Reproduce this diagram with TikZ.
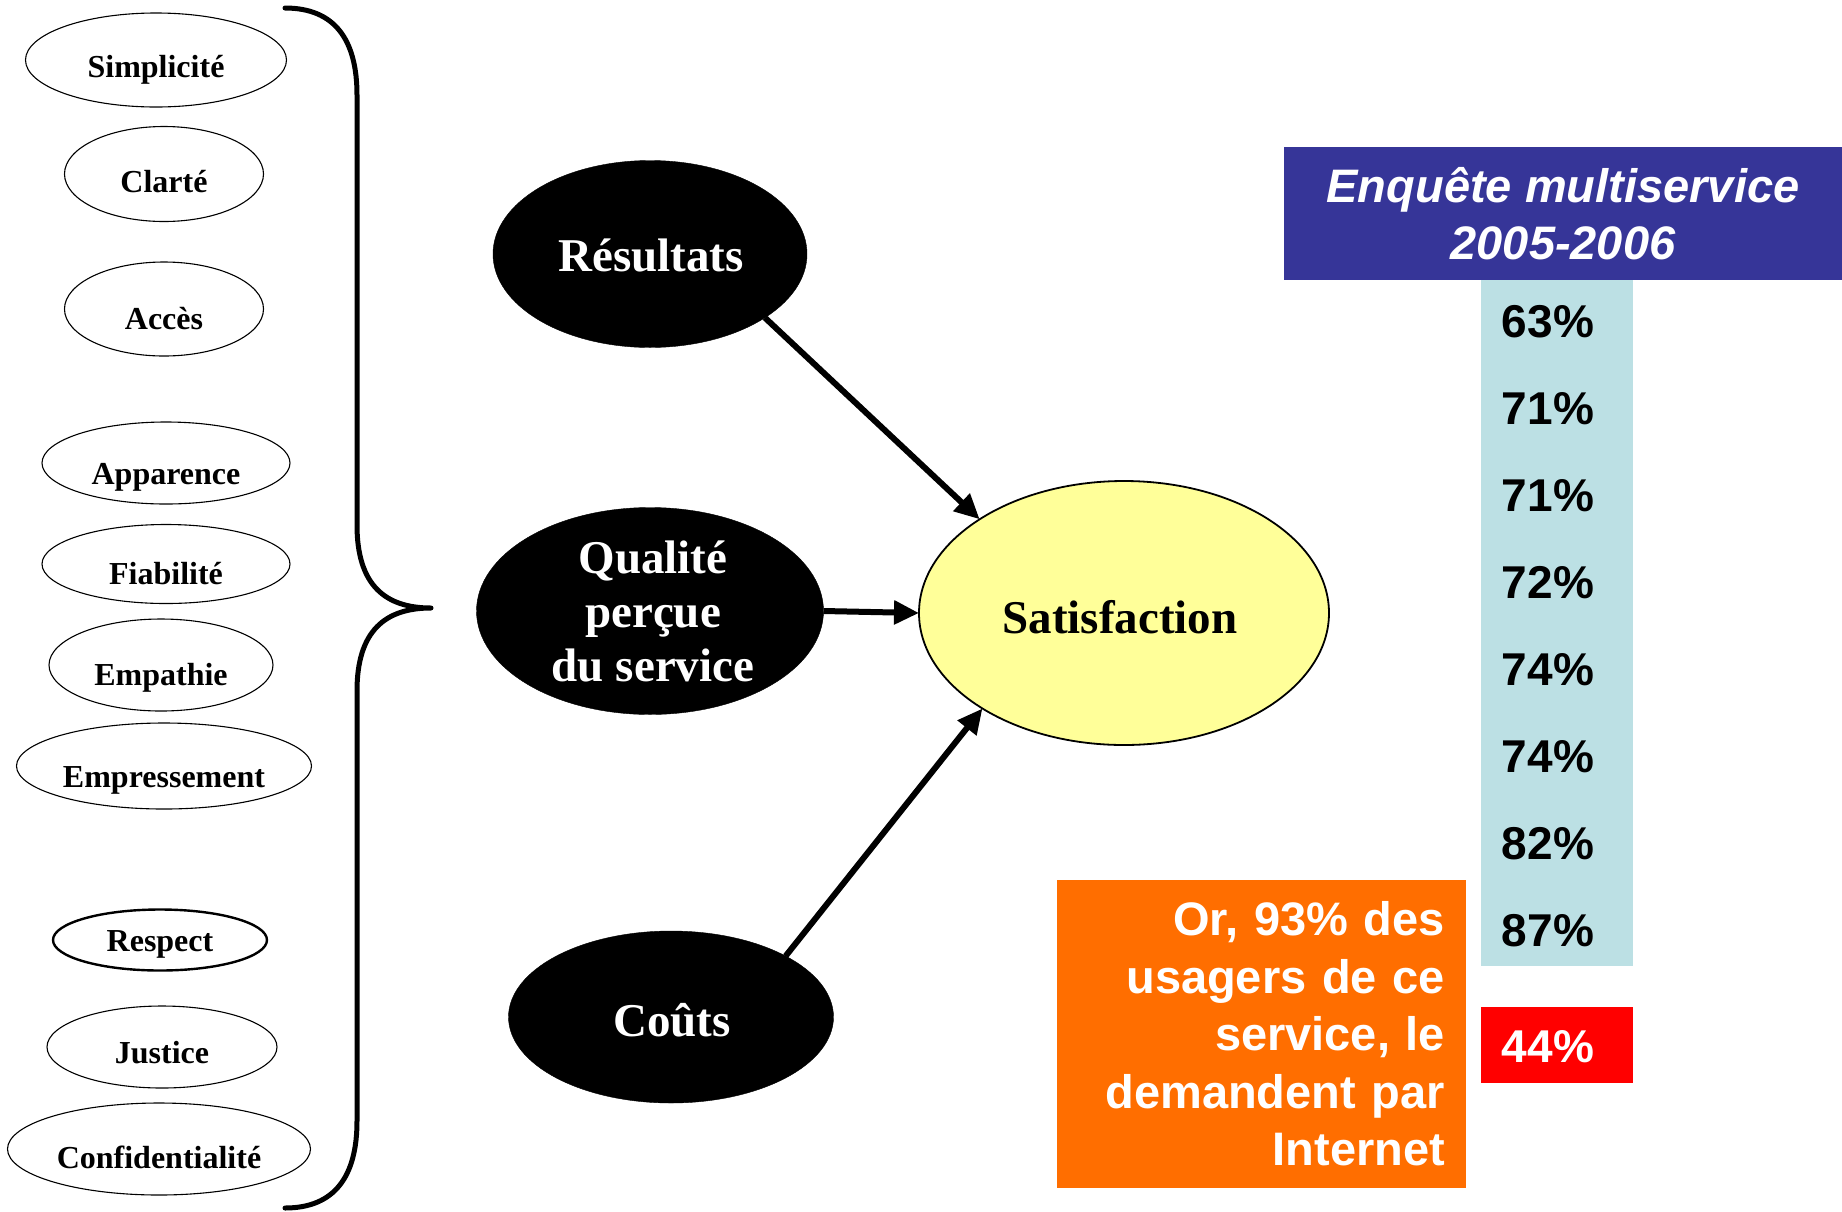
\documentclass[tikz,border=0pt]{standalone}
\usepackage{fontspec}
\setmainfont{Liberation Serif}
\newfontfamily\arialf{Liberation Sans}
\usetikzlibrary{shapes.geometric,arrows.meta}

\definecolor{headblue}{RGB}{54,53,152}
\definecolor{paleblue}{RGB}{188,224,228}
\definecolor{alertred}{RGB}{255,0,0}
\definecolor{notebox}{RGB}{255,110,0}
\definecolor{satyellow}{RGB}{255,255,153}

\begin{document}
\begin{tikzpicture}[x=1pt,y=-1pt,
  factor/.style={ellipse, draw=black, line width=1.1pt, fill=white, inner sep=0pt, outer sep=0pt},
  factortxt/.style={font=\fontsize{32}{38}\selectfont\bfseries, anchor=base, inner sep=0pt},
  driver/.style={ellipse, fill=black, draw=black, inner sep=0pt, outer sep=0pt},
  drivertxt/.style={font=\fontsize{47}{54}\selectfont\bfseries, text=white, inner sep=0pt, align=center},
  link/.style={line width=6pt, -{Triangle[length=25pt,width=23pt]}},
  pct/.style={font=\arialf\fontsize{46}{52}\selectfont\bfseries, anchor=base, inner sep=0pt},
  panel/.style={inner sep=0pt, outer sep=0pt, anchor=north west},
]
\useasboundingbox (0,0) rectangle (1842,1211);

% service-quality factors
\node[factor, minimum width=261pt, minimum height=94pt] (f1) at (156,60) {};
\node[factortxt] (t1) at (156,77.5) {Simplicité};
\node[factor, minimum width=199pt, minimum height=95pt] (f2) at (164,174) {};
\node[factortxt] (t2) at (164,192.6) {Clarté};
\node[factor, minimum width=199pt, minimum height=94pt] (f3) at (164,309) {};
\node[factortxt] (t3) at (164,329) {Accès};
\node[factor, minimum width=248pt, minimum height=82pt] (f4) at (166,463) {};
\node[factortxt] (t4) at (166,484) {Apparence};
\node[factor, minimum width=248pt, minimum height=79pt] (f5) at (166,564) {};
\node[factortxt] (t5) at (166,584) {Fiabilité};
\node[factor, minimum width=224pt, minimum height=92pt] (f6) at (161,665) {};
\node[factortxt] (t6) at (161,685) {Empathie};
\node[factor, minimum width=295pt, minimum height=86pt] (f7) at (164,766) {};
\node[factortxt] (t7) at (164,787) {Empressement};
\node[factor, line width=2.4pt, minimum width=214pt, minimum height=61pt] (f8) at (160,940) {};
\node[factortxt] (t8) at (160,951) {Respect};
\node[factor, minimum width=230pt, minimum height=82pt] (f9) at (162,1047) {};
\node[factortxt] (t9) at (162,1063) {Justice};
\node[factor, minimum width=303pt, minimum height=92pt] (f10) at (159,1149) {};
\node[factortxt] (t10) at (159,1168) {Confidentialité};

% curly brace gathering the factors
\coordinate (btop) at (285,8);
\coordinate (btip) at (431,608);
\coordinate (bbot) at (285,1208);
\draw[line width=5pt, line cap=round, line join=round]
  (btop) .. controls (335,8) and (357,40) .. (357,95)
  -- (357,525) .. controls (357,585) and (385,608) .. (btip)
  .. controls (385,608) and (357,631) .. (357,691)
  -- (357,1121) .. controls (357,1176) and (335,1208) .. (bbot);

% drivers of satisfaction
\node[driver, minimum width=314pt, minimum height=187pt] (r) at (650,254) {};
\node[drivertxt, anchor=base] (rt) at (651,271) {Résultats};
\node[driver, minimum width=347pt, minimum height=207pt] (q) at (650,611) {};
\node[drivertxt] (qt) at (653,611) {Qualité\\perçue\\du service};
\node[driver, minimum width=325pt, minimum height=172pt] (c) at (671,1017) {};
\node[drivertxt, anchor=base] (ct) at (672,1036) {Coûts};
\node[ellipse, fill=satyellow, draw=black, line width=1.8pt, inner sep=0pt, outer sep=0pt,
      minimum width=410pt, minimum height=264pt] (s) at (1124,613) {};
\node[drivertxt, text=black, anchor=base] (st) at (1120,633) {Satisfaction};

\draw[link] (r.-29) -- (s.147);
\draw[link] (q.east) -- (s.west);
\draw[link] (c.28) -- (s.214);

% survey results
\node[panel, fill=headblue, minimum width=558pt, minimum height=133pt, text=white,
      font=\arialf\fontsize{47}{57}\selectfont\bfseries\itshape, align=center]
  (head) at (1284,147) {Enquête multiservice\\2005-2006};
\node[panel, fill=paleblue, minimum width=152pt, minimum height=686pt] (col) at (1481,280) {};
\node[pct] (p1) at (1548,337) {63\%};
\node[pct] (p2) at (1548,424) {71\%};
\node[pct] (p3) at (1548,511) {71\%};
\node[pct] (p4) at (1548,598) {72\%};
\node[pct] (p5) at (1548,685) {74\%};
\node[pct] (p6) at (1548,772) {74\%};
\node[pct] (p7) at (1548,859) {82\%};
\node[pct] (p8) at (1548,946) {87\%};
\node[panel, fill=alertred, minimum width=152pt, minimum height=76pt] (red) at (1481,1007) {};
\node[pct, text=white] (p9) at (1548,1062) {44\%};
\node[panel, fill=notebox, minimum width=409pt, minimum height=308pt, text=white,
      text width=367pt, align=right, font=\arialf\fontsize{47}{57.5}\selectfont\bfseries]
  (note) at (1057,880) {Or, 93\% des\\usagers de ce\\service, le\\demandent par\\Internet};
\end{tikzpicture}
\end{document}
